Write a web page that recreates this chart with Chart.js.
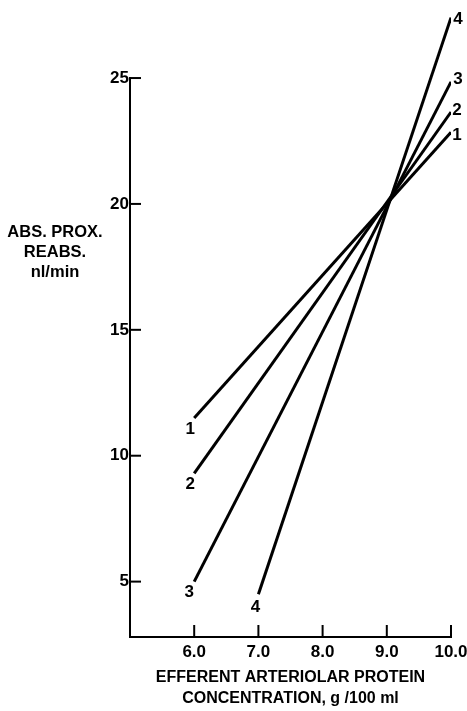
<!DOCTYPE html>
<html>
<head>
<meta charset="utf-8">
<script src="https://cdn.jsdelivr.net/npm/chart.js@4.4.0/dist/chart.umd.min.js"></script>
<style>
  html, body { margin: 0; padding: 0; background: #fff; }
  #wrap { width: 467px; height: 711px; }
</style>
</head>
<body>
<div id="wrap"><canvas id="c" width="467" height="711"></canvas></div>
<script>
// ---- data ----
const lineLabels = ['1', '2', '3', '4'];
const xFrom = [6.0, 6.0, 6.0, 7.0];
const yFrom = [11.5, 9.3, 5.0, 4.5];
const xTo = [10.0, 10.0, 10.0, 10.0];
const yTo = [22.85, 23.65, 24.85, 27.4];
const xTicks = [6.0, 7.0, 8.0, 9.0, 10.0];
const yTicks = [5, 10, 15, 20, 25];
const xTitleLines = ['EFFERENT ARTERIOLAR PROTEIN', 'CONCENTRATION, g /100 ml'];
const yTitleLines = ['ABS. PROX.', 'REABS.', 'nl/min'];

const FONT = '"Liberation Sans", Arial, sans-serif';

const datasets = lineLabels.map((name, i) => ({
  label: name,
  data: [{ x: xFrom[i], y: yFrom[i] }, { x: xTo[i], y: yTo[i] }],
  showLine: true,
  borderColor: '#000',
  borderWidth: 3,
  pointRadius: 0,
  borderCapStyle: 'butt',
  fill: false
}));

const startOffsets = [[-4, 11], [-4, 11], [-5, 11], [-3, 13]];
const endOffsets = [[6, 3], [6, -2], [7, -3], [7, 2]];

const decor = {
  id: 'decor',
  afterDatasetsDraw(chart) {
    const ctx = chart.ctx;
    const xs = chart.scales.x, ys = chart.scales.y;
    const area = chart.chartArea;
    ctx.save();
    ctx.strokeStyle = '#000';
    ctx.fillStyle = '#000';
    ctx.lineWidth = 2;
    ctx.lineCap = 'square';
    const x0 = xs.getPixelForValue(xs.min);
    const y0 = ys.getPixelForValue(ys.min);
    const yTop = ys.getPixelForValue(yTicks[yTicks.length - 1]);
    const xRight = xs.getPixelForValue(xTicks[xTicks.length - 1]);
    ctx.beginPath();
    ctx.moveTo(x0, yTop);
    ctx.lineTo(x0, y0);
    ctx.lineTo(xRight, y0);
    ctx.stroke();
    ctx.lineCap = 'butt';
    yTicks.forEach(v => {
      const py = ys.getPixelForValue(v);
      ctx.beginPath();
      ctx.moveTo(x0, py);
      ctx.lineTo(x0 + 11, py);
      ctx.stroke();
    });
    xTicks.forEach(v => {
      const px = xs.getPixelForValue(v);
      ctx.beginPath();
      ctx.moveTo(px, y0);
      ctx.lineTo(px, y0 - 12);
      ctx.stroke();
    });
    // line number labels
    ctx.font = 'bold 17px ' + FONT;
    ctx.textAlign = 'center';
    ctx.textBaseline = 'middle';
    lineLabels.forEach((name, i) => {
      const sx = xs.getPixelForValue(xFrom[i]), sy = ys.getPixelForValue(yFrom[i]);
      ctx.fillText(name, sx + startOffsets[i][0], sy + startOffsets[i][1]);
      const ex = xs.getPixelForValue(xTo[i]), ey = ys.getPixelForValue(yTo[i]);
      ctx.fillText(name, ex + endOffsets[i][0], ey + endOffsets[i][1]);
    });
    // axis titles
    ctx.font = 'bold 16px ' + FONT;
    ctx.textBaseline = 'alphabetic';
    const cx = (area.left + area.right) / 2;
    ctx.fillText(xTitleLines[0], cx, 682);
    ctx.fillText(xTitleLines[1], cx, 703);
    ctx.font = 'bold 16.5px ' + FONT;
    ctx.fillText(yTitleLines[0], 55, 237);
    ctx.fillText(yTitleLines[1], 55, 257);
    ctx.fillText(yTitleLines[2], 55, 277);
    ctx.restore();
  }
};

new Chart(document.getElementById('c'), {
  type: 'scatter',
  data: { datasets },
  options: {
    responsive: false,
    animation: false,
    devicePixelRatio: 1,
    layout: { padding: { left: 0, right: 16, top: 2.5, bottom: 0 } },
    plugins: { legend: { display: false }, tooltip: { enabled: false } },
    scales: {
      x: {
        type: 'linear',
        min: 5, max: 10,
        grid: { display: false, drawTicks: false },
        border: { display: false },
        afterBuildTicks: s => { s.ticks = xTicks.map(v => ({ value: v })); },
        afterFit: s => { s.height = 74; s.paddingLeft = 0; s.paddingRight = 0; },
        ticks: {
          color: '#000',
          padding: 5,
          maxRotation: 0,
          font: { family: FONT, size: 17, weight: 'bold' },
          callback: v => Number(v).toFixed(1)
        }
      },
      y: {
        type: 'linear',
        min: 2.8, max: 28,
        grid: { display: false, drawTicks: false },
        border: { display: false },
        afterBuildTicks: s => { s.ticks = yTicks.map(v => ({ value: v })); },
        afterFit: s => { s.width = 130; s.paddingTop = 0; s.paddingBottom = 0; },
        ticks: {
          color: '#000',
          padding: 1,
          font: { family: FONT, size: 17, weight: 'bold' },
          callback: v => String(v)
        }
      }
    }
  },
  plugins: [decor]
});
</script>
</body>
</html>
